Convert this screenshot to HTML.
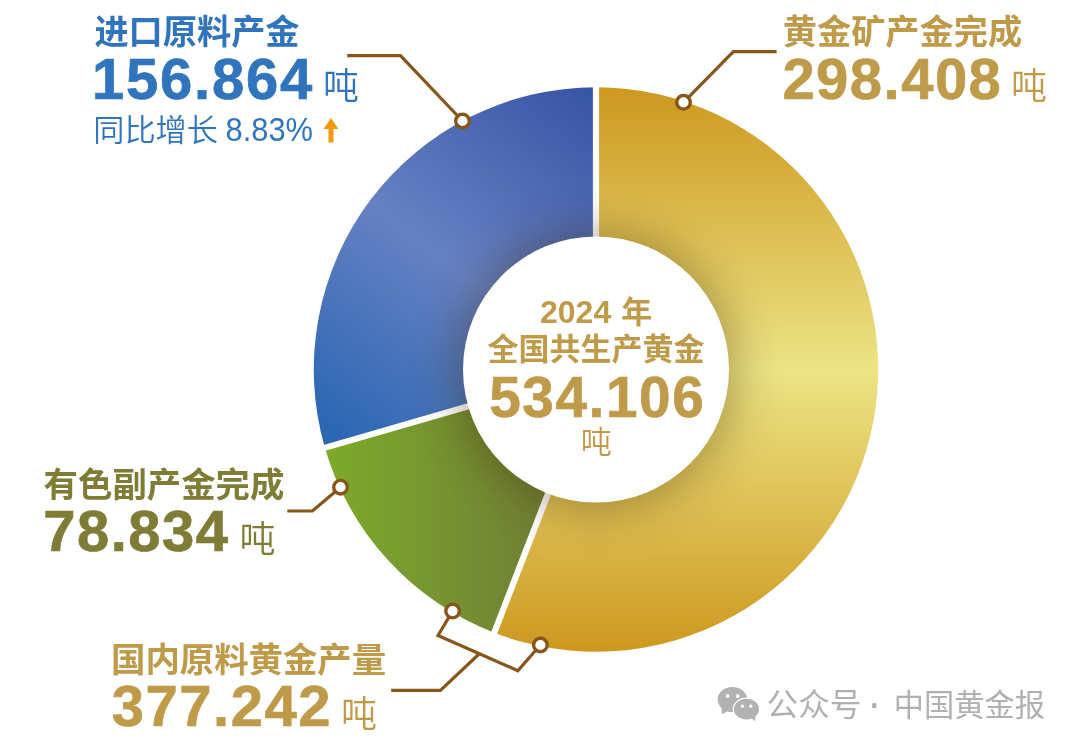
<!DOCTYPE html>
<html lang="zh-CN">
<head>
<meta charset="utf-8">
<title>2024 年全国共生产黄金</title>
<style>
html,body{margin:0;padding:0;background:#fff;}
body{width:1080px;height:749px;overflow:hidden;position:relative;font-family:"Liberation Sans", "Noto Sans CJK SC", sans-serif;}
svg{position:absolute;left:0;top:0;display:block;}
text{font-family:"Liberation Sans", "Noto Sans CJK SC", sans-serif;}
.t{font-weight:700;font-size:34.2px;}
.n{font-weight:700;font-size:58px;letter-spacing:1.75px;stroke-width:0.7px;paint-order:stroke;}
.n.blue{stroke:#2F74BC;}.n.gold{stroke:#BF9B49;}.n.olive{stroke:#7F7C36;}
.u{font-weight:350;font-size:36px;}
.blue{fill:#2F74BC;}
.gold{fill:#BF9B49;}
.olive{fill:#7F7C36;}
.ln{fill:none;stroke:#87561A;stroke-width:3.2;stroke-linejoin:miter;}
.mk{fill:#fff;stroke:#87561A;stroke-width:3.4;}
</style>
</head>
<body>
<svg width="1080" height="749" viewBox="0 0 1080 749">
<defs>
<linearGradient id="gGold" gradientUnits="userSpaceOnUse" x1="0" y1="87" x2="0" y2="652">
<stop offset="0" stop-color="#CD981F"/>
<stop offset="0.25" stop-color="#DDBE52"/>
<stop offset="0.5" stop-color="#ECE485"/>
<stop offset="0.75" stop-color="#DDBE52"/>
<stop offset="1" stop-color="#CD981F"/>
</linearGradient>
<linearGradient id="gBlue" gradientUnits="userSpaceOnUse" x1="345" y1="431" x2="600" y2="100">
<stop offset="0" stop-color="#2E68B4"/>
<stop offset="0.47" stop-color="#6681C3"/>
<stop offset="1" stop-color="#3855A5"/>
</linearGradient>
<linearGradient id="gGreen" gradientUnits="userSpaceOnUse" x1="325" y1="0" x2="560" y2="0">
<stop offset="0" stop-color="#7DAA2B"/>
<stop offset="1" stop-color="#6F7C36"/>
</linearGradient>
<filter id="blur" x="-30%" y="-30%" width="160%" height="160%"><feGaussianBlur stdDeviation="22"/></filter>
</defs>
<rect width="1080" height="749" fill="#fff"/>
<path d="M596.0,369.5 L596.00,87.30 A282.2,282.2 0 1 1 494.25,632.72 Z" fill="url(#gGold)"/>
<path d="M596.0,369.5 L494.25,632.72 A282.2,282.2 0 0 1 324.87,447.76 Z" fill="url(#gGreen)"/>
<path d="M596.0,369.5 L324.87,447.76 A282.2,282.2 0 0 1 596.00,87.30 Z" fill="url(#gBlue)"/>
<g stroke="#fff" stroke-width="6.2"><line x1="596.0" y1="369.5" x2="596.00" y2="83.30"/><line x1="596.0" y1="369.5" x2="492.81" y2="636.45"/><line x1="596.0" y1="369.5" x2="321.03" y2="448.87"/></g>
<circle cx="596.0" cy="370.5" r="143.0" fill="#402600" opacity="0.33" filter="url(#blur)"/>
<circle cx="596.0" cy="369.5" r="133.0" fill="#fff"/>

<!-- leader lines -->
<path class="ln" d="M347.2,55.6 H400.5 L462.5,121"/>
<path class="ln" d="M776.6,51.7 H733.4 L683.5,102.3"/>
<path class="ln" d="M287.3,511 H312.4 L340.5,487.2"/>
<path class="ln" d="M452.6,611.1 L438,635.4 L517.8,670.7 L540.4,645"/>
<path class="ln" d="M479.1,654 L440.4,690.4 H391.2"/>
<circle class="mk" cx="462.5" cy="121" r="6.8"/>
<circle class="mk" cx="683.5" cy="102.3" r="6.8"/>
<circle class="mk" cx="340.5" cy="487.2" r="6.8"/>
<circle class="mk" cx="452.6" cy="611.1" r="6.8"/>
<circle class="mk" cx="540.4" cy="645" r="6.8"/>

<!-- blue label -->
<text class="t blue" x="94.4" y="44.4">进口原料产金</text>
<text class="n blue" x="92" y="99">156.864</text>
<text class="u blue" x="323" y="99">吨</text>
<text class="blue" y="141.2"><tspan x="93.2" font-size="31.2" font-weight="350">同比增长 </tspan><tspan x="225.5" y="140.8" font-size="34" font-weight="400" textLength="87.5" lengthAdjust="spacingAndGlyphs">8.83%</tspan></text>
<path d="M331,118 L338.5,129 H333.5 V142.5 H328.5 V129 H323.5 Z" fill="#F39A12"/>

<!-- gold label top right -->
<text class="t gold" x="782.8" y="44.4">黄金矿产金完成</text>
<text class="n gold" x="782.4" y="99" style="letter-spacing:1.47px">298.408</text>
<text class="u gold" x="1011" y="99">吨</text>

<!-- olive label -->
<text class="t olive" x="43.6" y="497" style="font-size:34.4px">有色副产金完成</text>
<text class="n olive" x="43.3" y="551" style="letter-spacing:1.45px">78.834</text>
<text class="u olive" x="239.5" y="552">吨</text>

<!-- gold label bottom -->
<text class="t gold" x="111" y="672.4" style="font-size:34.4px">国内原料黄金产量</text>
<text class="n gold" x="111.7" y="726" style="letter-spacing:1.52px">377.242</text>
<text class="u gold" x="341" y="727">吨</text>

<!-- center -->
<text class="gold" y="322.6" font-weight="700"><tspan x="540" font-size="32">2024 </tspan><tspan x="621.3" font-size="31">年</tspan></text>
<text class="gold" x="596" y="360" font-size="31" font-weight="700" text-anchor="middle">全国共生产黄金</text>
<text class="gold" x="597.3" y="417" font-size="56.7" font-weight="700" text-anchor="middle" letter-spacing="1.6" stroke="#BF9B49" stroke-width="0.7" paint-order="stroke">534.106</text>
<text class="gold" x="596.3" y="453" font-size="31" font-weight="350" text-anchor="middle">吨</text>

<!-- watermark -->
<g fill="#b2b2b2">
<ellipse cx="732.4" cy="699.6" rx="14.8" ry="12.5"/>
<path d="M721,707 L722.3,714.2 L729.5,710 Z"/>
<ellipse cx="746.5" cy="709.2" rx="13.8" ry="11.7" fill="#fff"/>
<ellipse cx="746.5" cy="709.2" rx="12.5" ry="10.4"/>
<path d="M749,716 L755,721.3 L756,713 Z"/>
</g>
<g fill="#fff"><circle cx="727.6" cy="696" r="1.9"/><circle cx="737.7" cy="696" r="1.9"/><circle cx="742.4" cy="706.2" r="1.6"/><circle cx="750.8" cy="706.2" r="1.6"/></g>
<text fill="#b0b0b0" font-weight="400"><tspan x="766.6" y="716.4" font-size="31.6">公众号 </tspan><tspan x="867.07" y="718" font-size="44">· </tspan><tspan x="893.7" y="716" font-size="30.25">中国黄金报</tspan></text>
</svg>
</body>
</html>
